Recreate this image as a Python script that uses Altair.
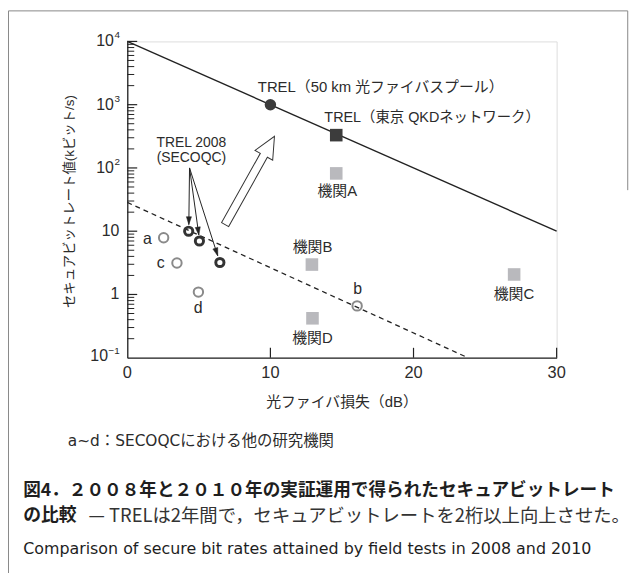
import math
import altair as alt
import pandas as pd

# ---------------- data ----------------
W, H = 433, 319
X_DOMAIN = [0, 30]
Y_DOMAIN = [0.1, 10000]

trel2010_x = [10.0]
trel2010_y = [1000.0]
tokyo_x = [14.6]
tokyo_y = [330.0]

trel2008_x = [4.29, 5.04, 6.47]
trel2008_y = [10.0, 7.0, 3.2]

other_labels = ["a", "b", "c", "d"]
other_x = [2.54, 16.06, 3.47, 4.97]
other_y = [7.9, 0.66, 3.15, 1.09]
other_label_x = [1.41, 16.1, 2.33, 4.95]
other_label_y = [7.6, 1.21, 3.15, 0.608]

inst_labels = ["機関A", "機関B", "機関C", "機関D"]
inst_x = [14.6, 12.9, 27.03, 12.94]
inst_y = [82.0, 2.97, 2.07, 0.42]
inst_label_x = [14.67, 12.94, 27.02, 12.94]
inst_label_y = [42.4, 5.61, 1.02, 0.206]

trend2010_x = [0, 30]
trend2010_y = [10000, 10]
trend2008_x = [0, 23.8]
trend2008_y = [28.5, 0.1]

x_ticks = [0, 10, 20, 30]
y_major = [10000, 1000, 100, 10, 1]
y_minor = [m * d for d in [0.1, 1, 10, 100, 1000] for m in range(2, 10)]

# annotation anchors (data coordinates)
lbl_2010 = ("TREL（50 km 光ファイバスプール）", 9.12, 1923)
lbl_tokyo = ("TREL（東京 QKDネットワーク）", 13.77, 605)
lbl_2008 = (["TREL 2008", "(SECOQC)"], [4.48, 4.48], [248, 142])
arrow_start = (4.35, 100.0)
arrow_tips_x = [4.30, 5.00, 6.32]
arrow_tips_y = [12.7, 8.7, 4.08]
big_arrow = (8.56, 63.4, 29.2)   # centre x, centre y, angle

FONT = "Liberation Sans, Noto Sans CJK JP"
WFONT = "DejaVu Sans, Noto Sans CJK JP"
JFONT = "Noto Sans CJK JP"
TXT = "#2b2b2b"

xs = alt.Scale(domain=X_DOMAIN, nice=False, zero=False)
ys = alt.Scale(type="log", domain=Y_DOMAIN, nice=False)
x_axis = alt.Axis(domain=True, ticks=False, labels=False, grid=False, title=None,
                  domainColor="#222", domainWidth=1.3)
y_axis = alt.Axis(domain=True, ticks=False, labels=False, grid=False, title=None,
                  domainColor="#222", domainWidth=1.3)


def X(f="x"):
    return alt.X(f"{f}:Q", scale=xs, axis=x_axis)


def Y(f="y"):
    return alt.Y(f"{f}:Q", scale=ys, axis=y_axis)


one = pd.DataFrame({"k": [0]})
layers = []

# trend lines
layers.append(alt.Chart(pd.DataFrame({"x": trend2010_x, "y": trend2010_y}))
              .mark_line(color="#222", strokeWidth=1.4).encode(x=X(), y=Y()))
layers.append(alt.Chart(pd.DataFrame({"x": trend2008_x, "y": trend2008_y}))
              .mark_line(color="#222", strokeWidth=1.3, strokeDash=[5, 4]).encode(x=X(), y=Y()))

# ticks (inward)
layers.append(alt.Chart(pd.DataFrame({"y": y_minor})).mark_rule(color="#222", strokeWidth=1)
              .encode(y=Y(), x=alt.value(0), x2=alt.value(7)))
layers.append(alt.Chart(pd.DataFrame({"y": y_major})).mark_rule(color="#222", strokeWidth=1.2)
              .encode(y=Y(), x=alt.value(0), x2=alt.value(10)))
layers.append(alt.Chart(pd.DataFrame({"x": x_ticks[1:]})).mark_rule(color="#222", strokeWidth=1.2)
              .encode(x=X(), y=alt.value(H), y2=alt.value(H - 10)))

# tick labels
layers.append(alt.Chart(pd.DataFrame({"x": x_ticks, "t": [str(v) for v in x_ticks]}))
              .mark_text(font=FONT, fontSize=16.5, color=TXT, baseline="middle", align="center")
              .encode(x=X(), y=alt.value(H + 15.5), text="t:N"))
layers.append(alt.Chart(pd.DataFrame({"y": [10, 1], "t": ["10", "1"]}))
              .mark_text(font=FONT, fontSize=16, color=TXT, baseline="middle", align="right")
              .encode(y=Y(), x=alt.value(-8), text="t:N"))
layers.append(alt.Chart(pd.DataFrame({"y": [10000, 1000, 100], "t": ["10"] * 3}))
              .mark_text(font=FONT, fontSize=16, color=TXT, baseline="middle", align="right")
              .encode(y=Y(), x=alt.value(-13.5), text="t:N"))
layers.append(alt.Chart(pd.DataFrame({"y": [10000, 1000, 100], "t": ["4", "3", "2"]}))
              .mark_text(font=FONT, fontSize=10, color=TXT, baseline="middle", align="left", dy=-6)
              .encode(y=Y(), x=alt.value(-13), text="t:N"))
layers.append(alt.Chart(pd.DataFrame({"y": [0.1], "t": ["10"]}))
              .mark_text(font=FONT, fontSize=16, color=TXT, baseline="middle", align="right", dy=-2)
              .encode(y=Y(), x=alt.value(-19.5), text="t:N"))
layers.append(alt.Chart(pd.DataFrame({"y": [0.1], "t": ["−1"]}))
              .mark_text(font=FONT, fontSize=10, color=TXT, baseline="middle", align="left", dy=-7)
              .encode(y=Y(), x=alt.value(-19), text="t:N"))

# points
layers.append(alt.Chart(pd.DataFrame({"x": inst_x, "y": inst_y}))
              .mark_square(size=161, color="#b9b9bd", opacity=1).encode(x=X(), y=Y()))
layers.append(alt.Chart(pd.DataFrame({"x": other_x, "y": other_y}))
              .mark_point(shape="circle", size=90, filled=False, stroke="#8a8a8a", strokeWidth=2, opacity=1)
              .encode(x=X(), y=Y()))
layers.append(alt.Chart(pd.DataFrame({"x": trel2008_x, "y": trel2008_y}))
              .mark_point(shape="circle", size=68, filled=False, stroke="#333", strokeWidth=3, opacity=1)
              .encode(x=X(), y=Y()))
layers.append(alt.Chart(pd.DataFrame({"x": trel2010_x, "y": trel2010_y}))
              .mark_circle(size=133, color="#3c3c3c", opacity=1).encode(x=X(), y=Y()))
layers.append(alt.Chart(pd.DataFrame({"x": tokyo_x, "y": tokyo_y}))
              .mark_square(size=161, color="#3c3c3c", opacity=1).encode(x=X(), y=Y()))

# point labels
layers.append(alt.Chart(pd.DataFrame({"x": inst_label_x, "y": inst_label_y, "t": inst_labels}))
              .mark_text(font=FONT, fontSize=15, color=TXT, baseline="middle", align="center")
              .encode(x=X(), y=Y(), text="t:N"))
layers.append(alt.Chart(pd.DataFrame({"x": other_label_x, "y": other_label_y, "t": other_labels}))
              .mark_text(font=FONT, fontSize=16, color=TXT, baseline="middle", align="center")
              .encode(x=X(), y=Y(), text="t:N"))
layers.append(alt.Chart(pd.DataFrame({"x": [lbl_2010[1]], "y": [lbl_2010[2]], "t": [lbl_2010[0]]}))
              .mark_text(font=FONT, fontSize=15, color=TXT, baseline="middle", align="left")
              .encode(x=X(), y=Y(), text="t:N"))
layers.append(alt.Chart(pd.DataFrame({"x": [lbl_tokyo[1]], "y": [lbl_tokyo[2]], "t": [lbl_tokyo[0]]}))
              .mark_text(font=FONT, fontSize=14.5, color=TXT, baseline="middle", align="left")
              .encode(x=X(), y=Y(), text="t:N"))
layers.append(alt.Chart(pd.DataFrame({"x": lbl_2008[1], "y": lbl_2008[2], "t": lbl_2008[0]}))
              .mark_text(font=FONT, fontSize=14, color=TXT, baseline="middle", align="center")
              .encode(x=X(), y=Y(), text="t:N"))

# thin arrows from the TREL 2008 label
sx, sy = arrow_start
arr = pd.DataFrame({"x": [sx] * 3, "y": [sy] * 3, "x2": arrow_tips_x, "y2": arrow_tips_y})
layers.append(alt.Chart(arr).mark_rule(color="#222", strokeWidth=1)
              .encode(x=X(), y=Y(), x2="x2:Q", y2="y2:Q"))


def px_angle(x1, y1, x2, y2):
    dx = (x2 - x1) * W / (X_DOMAIN[1] - X_DOMAIN[0])
    dy = (math.log10(y1) - math.log10(y2)) * H / 5.0
    return (360 - math.degrees(math.atan2(dx, dy))) % 360


head_path = "M 0 0 L -0.32 -1 L 0.32 -1 Z"
for tx, ty in zip(arrow_tips_x, arrow_tips_y):
    layers.append(alt.Chart(pd.DataFrame({"x": [tx], "y": [ty]}))
                  .mark_point(shape=head_path, size=256, filled=True, fill="#222", stroke="#222",
                              strokeWidth=0.5, opacity=1, angle=px_angle(sx, sy, tx, ty))
                  .encode(x=X(), y=Y()))

# big hollow arrow
arrow_path = "M 0 -1 L 0.2 -0.57 L 0.08 -0.57 L 0.08 1 L -0.08 1 L -0.08 -0.57 L -0.2 -0.57 Z"
layers.append(alt.Chart(pd.DataFrame({"x": [big_arrow[0]], "y": [big_arrow[1]]}))
              .mark_point(shape=arrow_path, size=10404, filled=True, fill="white", stroke="#333",
                          strokeWidth=1, opacity=1, fillOpacity=1, angle=big_arrow[2])
              .encode(x=X(), y=Y()))

# axis titles and captions (pixel positions relative to the plot area)
def txt(t, x, y, size, align="left", weight="normal", font=JFONT, angle=0, color=TXT):
    kw = dict(font=font, fontSize=size, color=color, baseline="middle", align=align, fontWeight=weight)
    if angle:
        kw["angle"] = angle
    return (alt.Chart(one).mark_text(**kw)
            .encode(x=alt.value(x), y=alt.value(y), text=alt.value(t)))


layers.append(txt("光ファイバ損失（dB）", W / 2, 364, 15, align="center", font=FONT))
layers.append(txt("セキュアビットレート値(kビット/s)", -57.5, 161.5, 13.5, align="center",
                  font=FONT, angle=270))
layers.append(txt("a~d：SECOQCにおける他の研究機関", -60, 403.4, 15.5, font=WFONT))
layers.append(txt("図4．２００８年と２０１０年の実証運用で得られたセキュアビットレート", -105, 453, 17.8,
                  weight="bold", color="#1e1e1e"))
layers.append(txt("の比較", -105, 478.2, 18, weight="bold", color="#1e1e1e"))
layers.append(txt("— TRELは2年間で，セキュアビットレートを2桁以上向上させた。", -39, 478.2, 18.5,
                  color="#333"))
layers.append(txt("Comparison of secure bit rates attained by field tests in 2008 and 2010",
                  -105, 512.4, 16, font="DejaVu Sans", color="#1e1e1e"))

# frame
frame = alt.Chart(one).mark_rule(color="#888", strokeWidth=1)
layers.append(frame.encode(x=alt.value(-119.8), x2=alt.value(504.7), y=alt.value(-30.8), y2=alt.value(-30.8)))
layers.append(frame.encode(x=alt.value(-119.8), x2=alt.value(-119.8), y=alt.value(-30.8), y2=alt.value(540)))
layers.append(frame.encode(x=alt.value(504.7), x2=alt.value(504.7), y=alt.value(-30.8), y2=alt.value(150)))

chart = (alt.layer(*layers)
         .properties(width=W, height=H, autosize=alt.AutoSizeParams(type="none"),
                     padding={"left": 120.3, "top": 31.3, "right": 75, "bottom": 215})
         .configure_view(stroke=None)
         .configure(background="white"))

chart.save("out.html", embed_options={"renderer": "svg", "actions": False})
